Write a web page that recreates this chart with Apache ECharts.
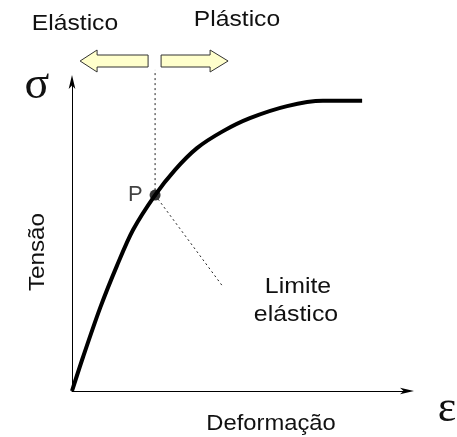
<!DOCTYPE html>
<html>
<head>
<meta charset="utf-8">
<script src="https://cdn.jsdelivr.net/npm/echarts@6/dist/echarts.min.js"></script>
<style>
html,body{margin:0;padding:0;background:#fff;}
#chart{width:457px;height:437px;}
</style>
</head>
<body>
<div id="chart"></div>
<script>
// Stress–strain curve (arbitrary units, 0..100 on both axes)
var strain = [0, 3.3, 8.4, 13.4, 18.2, 24.8, 30.7, 37.3, 45.1, 53.1, 64.2, 74.9, 86.6];
var stress = [0, 11.0, 26.9, 40.5, 52.1, 63.4, 71.5, 78.6, 84.1, 88.3, 92.2, 93.9, 93.9];
// Elastic limit point P
var limitPoint = [24.8, 63.4];
// Leader line end for "Limite elástico"
var leaderEnd = [45.1, 33.7];
// Top of the vertical dotted divider
var dividerTop = 103.9;
var labels = {
  elastic: 'Elástico', plastic: 'Plástico', sigma: 'σ', eps: 'ε',
  yName: 'Tensão', xName: 'Deformação', p: 'P', limit1: 'Limite', limit2: 'elástico'
};

var FONT = '"Liberation Sans", Arial, sans-serif';
var SERIF = '"Liberation Serif", "Times New Roman", serif';
var TXT = '#111';

var curve = strain.map(function (x, i) { return [x, stress[i]]; });

var chart = echarts.init(document.getElementById('chart'), null, {renderer: 'canvas'});

function axis() {
  return {
    type: 'value', min: 0, max: 100,
    axisLine: {show: true, symbol: ['none', 'arrow'], symbolSize: [5, 14], symbolOffset: [0, 7],
      lineStyle: {color: '#000', width: 1}},
    axisTick: {show: false}, axisLabel: {show: false}, splitLine: {show: false}
  };
}

var option = {
  animation: false,
  backgroundColor: '#fff',
  grid: {left: 72, top: 82, width: 335, height: 309},
  xAxis: axis(),
  yAxis: axis(),
  series: [
    {
      type: 'line', data: curve, smooth: 0.3, showSymbol: false, z: 3,
      lineStyle: {color: '#000', width: 4}
    },
    {
      type: 'line', data: [limitPoint, [limitPoint[0], dividerTop]], showSymbol: false, clip: false, z: 2,
      lineStyle: {color: '#222', width: 1, type: [2, 3]}
    },
    {
      type: 'line', data: [limitPoint, leaderEnd], showSymbol: false, clip: false, z: 2,
      lineStyle: {color: '#222', width: 1, type: [2, 3]}
    },
    {
      type: 'scatter', data: [limitPoint], symbolSize: 11, z: 4,
      itemStyle: {color: '#000'},
      label: {show: true, position: 'left', distance: 7, formatter: labels.p, color: TXT, fontSize: 22, fontFamily: FONT}
    }
  ]
};
chart.setOption(option);

var p = chart.convertToPixel({gridIndex: 0}, limitPoint);
var cx = p[0], cy = 61;

function txt(text, x, y, size, family, rot, sx) {
  return {
    type: 'text', x: x, y: y, rotation: rot || 0, scaleX: sx || 1, z: 10,
    style: {text: text, fill: TXT, font: size + 'px ' + family, textAlign: 'center', textVerticalAlign: 'middle'}
  };
}

var arrowStyle = {fill: '#FFFFCC', stroke: '#333', lineWidth: 1};
chart.setOption({
  graphic: [
    {type: 'polygon', shape: {points: [[cx - 75, cy], [cx - 58, cy - 11], [cx - 58, cy - 6], [cx - 7, cy - 6], [cx - 7, cy + 6], [cx - 58, cy + 6], [cx - 58, cy + 11]]}, style: arrowStyle},
    {type: 'polygon', shape: {points: [[cx + 6, cy - 6], [cx + 55, cy - 6], [cx + 55, cy - 11], [cx + 73, cy], [cx + 55, cy + 11], [cx + 55, cy + 6], [cx + 6, cy + 6]]}, style: arrowStyle},
    txt(labels.elastic, 75, 24, 22, FONT, 0, 1.12),
    txt(labels.plastic, 237, 20, 22, FONT, 0, 1.12),
    txt(labels.xName, 271, 424, 22, FONT, 0, 1.08),
    txt(labels.limit1, 298, 287, 22, FONT, 0, 1.13),
    txt(labels.limit2, 296, 315, 22, FONT, 0, 1.13),
    txt(labels.yName, 38, 252, 22, FONT, Math.PI / 2, 1.1),
    txt(labels.sigma, 37, 86, 46, SERIF, 0, 1),
    txt(labels.eps, 447, 409, 44, SERIF, 0, 1)
  ]
});
</script>
</body>
</html>
